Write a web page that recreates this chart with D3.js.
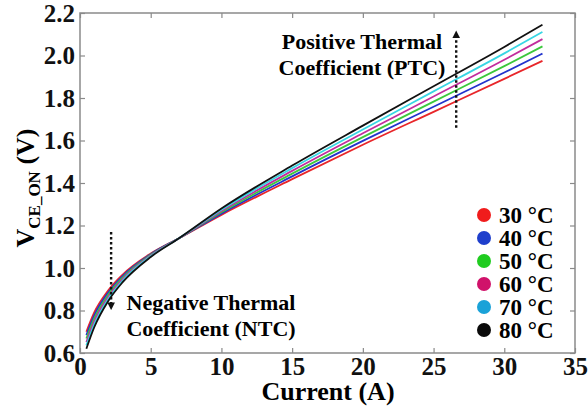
<!DOCTYPE html>
<html><head><meta charset="utf-8"><script src="https://cdn.jsdelivr.net/npm/d3@7"></script></head>
<body style="margin:0">
<script>
// current (A) sample points, shared by all series
const current = [0.45, 1, 2, 3, 5, 7, 10, 15, 20, 25, 30, 32.7]

// V_CE_ON (V)
const v30 = [0.70, 0.79, 0.895, 0.968, 1.068, 1.14, 1.25, 1.418, 1.58, 1.735, 1.89, 1.975]
const v40 = [0.684, 0.776, 0.885, 0.961, 1.065, 1.14, 1.256, 1.431, 1.598, 1.759, 1.92, 2.009]
const v50 = [0.668, 0.762, 0.875, 0.954, 1.062, 1.14, 1.262, 1.444, 1.616, 1.783, 1.95, 2.043]
const v60 = [0.652, 0.748, 0.865, 0.947, 1.059, 1.14, 1.268, 1.457, 1.634, 1.807, 1.98, 2.077]
const v70 = [0.636, 0.734, 0.855, 0.94, 1.056, 1.14, 1.274, 1.47, 1.652, 1.831, 2.01, 2.111]
const v80 = [0.62, 0.72, 0.845, 0.932, 1.052, 1.14, 1.28, 1.482, 1.67, 1.855, 2.04, 2.145]

const temps = ["30", "40", "50", "60", "70", "80"]
const xTicks = [0, 5, 10, 15, 20, 25, 30, 35]
const yTicks = [0.6, 0.8, 1.0, 1.2, 1.4, 1.6, 1.8, 2.0, 2.2]

const lineColors = ["#e8262a", "#2233cc", "#3cc83c", "#c22c9c", "#38d6e4", "#111111"]
const dotColors = ["#f01c1c", "#1f3fcc", "#20cc20", "#d0126a", "#1aa2d8", "#0a0a0a"]

const series = [v30, v40, v50, v60, v70, v80].map((vals, i) => ({
  temp: temps[i],
  points: vals.map((v, j) => [current[j], v]),
}))

const w = 588
const h = 406
const m = { left: 80, right: 13, top: 13, bottom: 53 }

const x = d3.scaleLinear().domain([0, 35]).range([m.left, w - m.right])
const y = d3.scaleLinear().domain([0.6, 2.2]).range([h - m.bottom, m.top])

const svg = d3.select("body").append("svg").attr("width", w).attr("height", h)

// frame
svg
  .append("rect")
  .attr("x", x(0))
  .attr("y", y(2.2))
  .attr("width", x(35) - x(0))
  .attr("height", y(0.6) - y(2.2))
  .attr("fill", "none")
  .attr("stroke", "#8a8a8a")
  .attr("stroke-width", 1.5)

// axes, ticks pointing inside on all four sides
const styleAxis = (g) => {
  g.attr("font-family", "Liberation Serif").attr("font-weight", "bold").attr("font-size", 25)
  g.select(".domain").remove()
  g.selectAll(".tick line").attr("stroke", "#8a8a8a").attr("stroke-width", 1.2)
  g.selectAll(".tick text")
    .attr("fill", "#111")
    .attr("font-family", "Liberation Serif")
    .attr("font-weight", "bold")
    .attr("font-size", 25)
}

svg
  .append("g")
  .attr("transform", `translate(0, ${y(0.6)})`)
  .call(d3.axisBottom(x).tickValues(xTicks).tickSize(-5).tickPadding(5).tickFormat(d3.format("d")))
  .call(styleAxis)
  .selectAll("text")
  .attr("dy", "0.66em")

svg
  .append("g")
  .attr("transform", `translate(0, ${y(2.2)})`)
  .call(d3.axisTop(x).tickValues(xTicks).tickSize(-5).tickFormat(""))
  .call(styleAxis)

svg
  .append("g")
  .attr("transform", `translate(${x(0)}, 0)`)
  .call(d3.axisLeft(y).tickValues(yTicks).tickSize(-5).tickPadding(5).tickFormat(d3.format(".1f")))
  .call(styleAxis)

svg
  .append("g")
  .attr("transform", `translate(${x(35)}, 0)`)
  .call(d3.axisRight(y).tickValues(yTicks).tickSize(-5).tickFormat(""))
  .call(styleAxis)

// curves
const line = d3
  .line()
  .x((d) => x(d[0]))
  .y((d) => y(d[1]))
  .curve(d3.curveMonotoneX)

svg
  .append("g")
  .selectAll("path")
  .data(series)
  .enter()
  .append("path")
  .attr("d", (d) => line(d.points))
  .attr("fill", "none")
  .attr("stroke", (d, i) => lineColors[i])
  .attr("stroke-width", 1.8)

// dotted arrows
svg
  .append("defs")
  .append("marker")
  .attr("id", "head")
  .attr("viewBox", "0 0 10 10")
  .attr("refX", 5)
  .attr("refY", 5)
  .attr("markerWidth", 3.2)
  .attr("markerHeight", 3.2)
  .attr("orient", "auto")
  .append("path")
  .attr("d", "M0,0 L10,5 L0,10 z")
  .attr("fill", "#111")

const arrows = [
  { from: [2.2, 1.17], to: [2.2, 0.82] },
  { from: [26.6, 1.66], to: [26.6, 2.1] },
]

svg
  .selectAll(".arrow")
  .data(arrows)
  .enter()
  .append("line")
  .attr("class", "arrow")
  .attr("x1", (d) => x(d.from[0]))
  .attr("y1", (d) => y(d.from[1]))
  .attr("x2", (d) => x(d.to[0]))
  .attr("y2", (d) => y(d.to[1]))
  .attr("stroke", "#111")
  .attr("stroke-width", 2.4)
  .attr("stroke-dasharray", "2.5 2.5")
  .attr("marker-end", "url(#head)")

// annotations
const notes = [
  { lines: ["Positive Thermal", "Coefficient (PTC)"], x: 362, y: 49 },
  { lines: ["Negative Thermal", "Coefficient (NTC)"], x: 211, y: 310 },
]

notes.forEach((n) => {
  n.lines.forEach((t, i) => {
    svg
      .append("text")
      .attr("x", n.x)
      .attr("y", n.y + i * 26)
      .attr("text-anchor", "middle")
      .attr("font-family", "Liberation Serif")
      .attr("font-weight", "bold")
      .attr("font-size", 22)
      .text(t)
  })
})

// legend
const legend = svg
  .append("g")
  .selectAll("g")
  .data(temps)
  .enter()
  .append("g")
  .attr("transform", (d, i) => `translate(484, ${215 + i * 23})`)

legend.append("circle").attr("r", 7).attr("fill", (d, i) => dotColors[i])

legend
  .append("text")
  .attr("x", 15)
  .attr("y", 8)
  .attr("font-family", "Liberation Serif")
  .attr("font-weight", "bold")
  .attr("font-size", 23)
  .text((d) => `${d} °C`)

// axis titles
svg
  .append("text")
  .attr("x", 328)
  .attr("y", 400)
  .attr("text-anchor", "middle")
  .attr("font-family", "Liberation Serif")
  .attr("font-weight", "bold")
  .attr("font-size", 26)
  .text("Current (A)")

const yTitle = svg
  .append("text")
  .attr("transform", `translate(34, 188) rotate(-90)`)
  .attr("text-anchor", "middle")
  .attr("font-family", "Liberation Serif")
  .attr("font-weight", "bold")
  .attr("font-size", 26)

yTitle.append("tspan").text("V")
yTitle.append("tspan").attr("font-size", 17).attr("dy", 6).text("CE_ON")
yTitle.append("tspan").attr("dy", -6).text(" (V)")
</script>
</body></html>
